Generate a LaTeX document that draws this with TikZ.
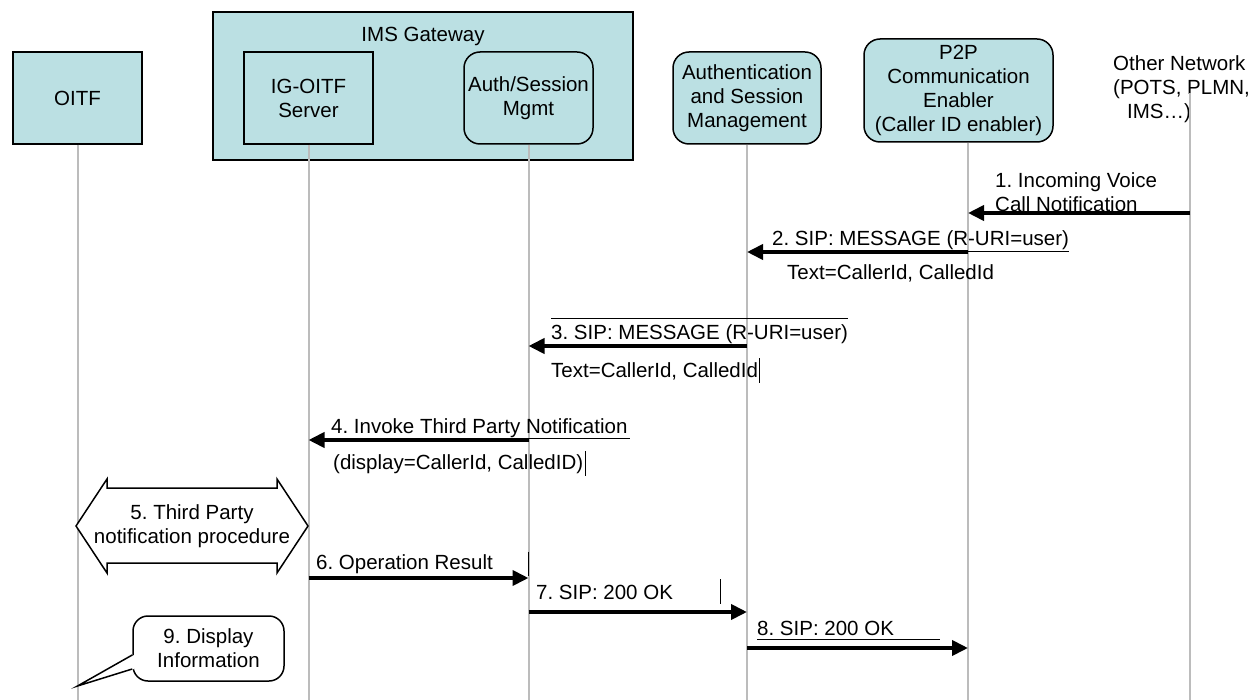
\documentclass[tikz,border=0pt]{standalone}
\usepackage{fontspec}
\setmainfont{Liberation Sans}
\frenchspacing
\usetikzlibrary{arrows.meta}
\definecolor{boxfill}{RGB}{187,224,227}
\definecolor{lifegray}{RGB}{188,188,188}
\tikzset{
  entity/.style={draw, line width=1.5pt, fill=boxfill, inner sep=0pt, align=center},
  roundentity/.style={entity, rounded corners=16pt},
  lifeline/.style={draw=lifegray, line width=2pt},
  msg/.style={line width=3.8pt, -{Triangle[length=16pt,width=15pt]}},
  msgtext/.style={anchor=base west, inner sep=0pt},
  hairline/.style={line width=0.6pt},
}
\begin{document}
\begin{tikzpicture}[x=1pt, y=-1pt, font=\fontsize{20.5}{24}\selectfont]
    \useasboundingbox (0,0) rectangle (1260,700);
    % entities
    \node[entity, minimum width=129pt, minimum height=92pt] (oitf) at (77.5,98) {OITF};
    \node[entity, minimum width=420pt, minimum height=148pt] (gw) at (423,86) {};
    \node[anchor=base, inner sep=0pt] (gwtitle) at (423,42) {IMS Gateway};
    \node[entity, minimum width=129pt, minimum height=92pt] (igs) at (308.5,98) {IG-OITF\\Server};
    \node[roundentity, minimum width=129pt, minimum height=92pt] (igasm) at (528.5,98) {Auth/Session\\Mgmt};
    \node[roundentity, minimum width=148pt, minimum height=92pt] (asm) at (747,98) {Authentication\\and Session\\Management};
    \node[roundentity, minimum width=189pt, minimum height=103pt] (p2p) at (958.5,90.5) {P2P\\Communication\\Enabler\\(Caller ID enabler)};
    \node[anchor=north west, inner sep=0pt, align=left] (other) at (1113,55.5) {Other Network\\(POTS, PLMN,\\\hspace*{14pt}IMS…)};
    \coordinate (p2plife) at ([xshift=9.5pt]p2p.south);
    \coordinate (otherlife) at (1190,93);
    % lifelines
    \foreach \n in {oitf,igs,igasm,asm}
        \draw[lifeline] (\n.south) -- (\n.south |- 0,700);
    \draw[lifeline] (p2plife) -- (p2plife |- 0,700);
    \draw[lifeline] (otherlife) -- (otherlife |- 0,700);
    % 1. incoming call
    \node[anchor=north west, inner sep=0pt, align=left] (m1) at (995,172.5) {1. Incoming Voice\\Call Notification};
    \draw[msg] (otherlife |- 0,213) -- (p2plife |- 0,213);
    % 2. message to session management
    \node[msgtext] (m2) at (772,246) {2. SIP: MESSAGE (R-URI=user)};
    \node[msgtext] (m2b) at (787,280) {Text=CallerId, CalledId};
    \draw[hairline] ([yshift=-5pt]m2.base west) -- ([yshift=-5pt]m2.base east);
    \draw[msg] (p2plife |- 0,252) -- (asm.south |- 0,252);
    % 3. message to gateway
    \node[msgtext] (m3) at (551,340) {3. SIP: MESSAGE (R-URI=user)};
    \node[msgtext] (m3b) at (551,377) {Text=CallerId, CalledId};
    \draw[hairline] ([yshift=22pt]m3.base west) -- ([yshift=22pt]m3.base east);
    \draw[hairline] ([xshift=1pt, yshift=12.5pt]m3b.east) -- ([xshift=1pt, yshift=-12.5pt]m3b.east);
    \draw[msg] (asm.south |- 0,346) -- (igasm.south |- 0,346);
    % 4. invoke notification
    \node[msgtext] (m4) at (331,433) {4. Invoke Third Party Notification};
    \node[msgtext] (m4b) at (333,469) {(display=CallerId, CalledID)};
    \draw[hairline] ([yshift=-5pt]m4.base west) -- ([xshift=2pt, yshift=-5pt]m4.base east);
    \draw[hairline] ([xshift=1.5pt, yshift=12.5pt]m4b.east) -- ([xshift=1.5pt, yshift=-12.5pt]m4b.east);
    \draw[msg] (igasm.south |- 0,440) -- (igs.south |- 0,440);
    % 5. procedure
    \draw[line width=1.5pt, fill=white] (76,526) -- (107,479) -- (107,488) -- (277,488) -- (277,479) -- (308,526)
        -- (277,573) -- (277,563) -- (107,563) -- (107,573) -- cycle;
    \node[align=center, inner sep=0pt] (proc) at (192,526) {5. Third Party\\notification procedure};
    % 6. result
    \node[msgtext] (m6) at (316,569) {6. Operation Result};
    \draw[hairline] ([xshift=35.5pt, yshift=12pt]m6.east) -- ([xshift=35.5pt, yshift=-12pt]m6.east);
    \draw[msg] (igs.south |- 0,578) -- (igasm.south |- 0,578);
    % 7. and 8. answers
    \node[msgtext] (m7) at (536,599) {7. SIP: 200 OK};
    \draw[hairline] ([xshift=47pt, yshift=12.5pt]m7.east) -- ([xshift=47pt, yshift=-12.5pt]m7.east);
    \draw[msg] (igasm.south |- 0,612) -- (asm.south |- 0,612);
    \node[msgtext] (m8) at (757,635) {8. SIP: 200 OK};
    \draw[hairline] ([yshift=-4pt]m8.base west) -- ([xshift=46pt, yshift=-4pt]m8.base east);
    \draw[msg] (asm.south |- 0,648) -- (p2plife |- 0,648);
    % 9. display
    \node[draw, line width=1.5pt, fill=white, rounded corners=15pt, minimum width=151pt, minimum height=65pt,
        align=center, inner sep=0pt] (note) at (208.5,648.5) {9. Display\\Information};
    \coordinate (tip) at (oitf.south |- 0,686);
    \fill[white] ([xshift=1.8pt, yshift=-6.5pt]note.west) -- (tip) -- ([xshift=1.8pt, yshift=-20.5pt]note.west) -- cycle;
    \draw[line width=1.5pt, line join=miter] ([yshift=-6.5pt]note.west) -- (tip) -- ([yshift=-20.5pt]note.west);
\end{tikzpicture}
\end{document}
